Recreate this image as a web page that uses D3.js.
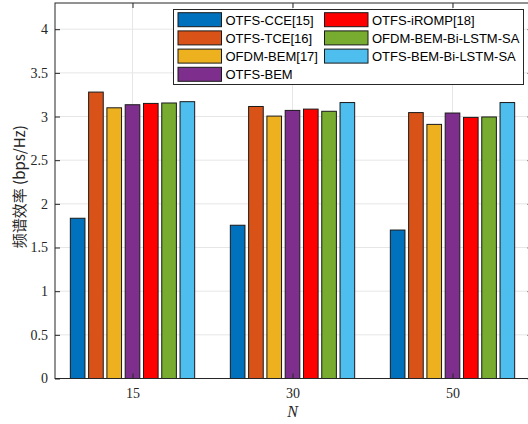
<!DOCTYPE html>
<html>
<head>
<meta charset="utf-8">
<script src="https://cdn.jsdelivr.net/npm/d3@7"></script>
<style>
  html, body { margin: 0; padding: 0; background: #fff; }
  svg { display: block; }
</style>
</head>
<body>
<svg id="chart" width="528" height="424"></svg>
<script>
// Spectral efficiency for each method at three frame sizes N
const categories = ["15", "30", "50"];
const seriesNames = [
  "OTFS-CCE[15]", "OTFS-TCE[16]", "OFDM-BEM[17]", "OTFS-BEM",
  "OTFS-iROMP[18]", "OFDM-BEM-Bi-LSTM-SA", "OTFS-BEM-Bi-LSTM-SA"
];
const seriesColors = ["#0072BD", "#D95319", "#EDB120", "#7E2F8E", "#FF0000", "#77AC30", "#4DBEEE"];
const otfsCce      = [1.835, 1.755, 1.70];
const otfsTce      = [3.28, 3.115, 3.045];
const ofdmBem      = [3.10, 3.005, 2.91];
const otfsBem      = [3.135, 3.07, 3.04];
const otfsIromp    = [3.15, 3.085, 2.99];
const ofdmBemLstm  = [3.155, 3.06, 2.995];
const otfsBemLstm  = [3.17, 3.16, 3.16];
const yTicks = [0, 0.5, 1, 1.5, 2, 2.5, 3, 3.5, 4];

const series = [otfsCce, otfsTce, ofdmBem, otfsBem, otfsIromp, ofdmBemLstm, otfsBemLstm];

const svg = d3.select("#chart");
const plotL = 55, plotR = 532.5, plotT = 3, plotB = 378.5;

// group index (1..3) on a continuous scale, grouped-bar layout
const x = d3.scaleLinear().domain([0.5156, 3.5]).range([plotL, plotR]);
const y = d3.scaleLinear().domain([0, 4.3]).range([plotB, plotT]);

const nSeries = series.length;
const groupWidth = Math.min(0.8, nSeries / (nSeries + 1.5));
const pitch = groupWidth / nSeries;
const barW = pitch * 0.8;

svg.append("defs").append("clipPath").attr("id", "plotClip")
  .append("rect").attr("x", plotL).attr("y", plotT).attr("width", plotR - plotL).attr("height", plotB - plotT);

// grid
const grid = svg.append("g").attr("clip-path", "url(#plotClip)");
grid.selectAll("line.gy").data(yTicks).enter().append("line")
  .attr("x1", plotL).attr("x2", plotR)
  .attr("y1", d => y(d)).attr("y2", d => y(d))
  .attr("stroke", "#e6e6e6").attr("stroke-width", 1);
grid.selectAll("line.gx").data(categories).enter().append("line")
  .attr("x1", (d, i) => x(i + 1)).attr("x2", (d, i) => x(i + 1))
  .attr("y1", plotT).attr("y2", plotB)
  .attr("stroke", "#e6e6e6").attr("stroke-width", 1);

// bars
const bars = svg.append("g").attr("clip-path", "url(#plotClip)");
series.forEach((vals, s) => {
  bars.selectAll(null).data(vals).enter().append("rect")
    .attr("x", (d, i) => x(i + 1 + (s - (nSeries - 1) / 2) * pitch - barW / 2))
    .attr("width", x(barW) - x(0))
    .attr("y", d => y(d))
    .attr("height", d => y(0) - y(d))
    .attr("fill", seriesColors[s])
    .attr("stroke", "#1a1a1a")
    .attr("stroke-width", 1);
});

// axes
const axisColor = "#262626";
const serif = "'Liberation Serif', 'DejaVu Serif', serif";
const gy = svg.append("g").attr("transform", `translate(${plotL},0)`)
  .call(d3.axisLeft(y).tickValues(yTicks).tickSizeInner(-5).tickSizeOuter(0).tickFormat(d3.format("")));
gy.select(".domain").remove();
gy.selectAll(".tick line").attr("stroke", axisColor);
gy.selectAll(".tick text").attr("x", -7)
  .attr("font-family", serif).attr("font-size", 14).attr("fill", axisColor);

const gyr = svg.append("g").attr("transform", `translate(${plotR},0)`)
  .call(d3.axisRight(y).tickValues(yTicks).tickSizeInner(-5).tickSizeOuter(0).tickFormat(""));
gyr.select(".domain").remove();
gyr.selectAll(".tick line").attr("stroke", axisColor);

const gx = svg.append("g").attr("transform", `translate(0,${plotB})`)
  .call(d3.axisBottom(x).tickValues([1, 2, 3]).tickSizeInner(-5).tickSizeOuter(0)
    .tickFormat((d, i) => categories[i]));
gx.select(".domain").remove();
gx.selectAll(".tick line").attr("stroke", axisColor);
gx.selectAll(".tick text").attr("y", 10)
  .attr("font-family", serif).attr("font-size", 14).attr("fill", axisColor);

const gxt = svg.append("g").attr("transform", `translate(0,${plotT})`)
  .call(d3.axisTop(x).tickValues([1, 2, 3]).tickSizeInner(-5).tickSizeOuter(0).tickFormat(""));
gxt.select(".domain").remove();
gxt.selectAll(".tick line").attr("stroke", axisColor);

// box
svg.append("rect").attr("x", plotL).attr("y", plotT)
  .attr("width", plotR - plotL).attr("height", plotB - plotT)
  .attr("fill", "none").attr("stroke", axisColor).attr("stroke-width", 1);

// axis titles
svg.append("text")
  .attr("transform", `translate(18,${(plotT + plotB) / 2 - 4}) rotate(-90)`)
  .attr("text-anchor", "middle").attr("dominant-baseline", "central")
  .attr("font-family", "'Noto Sans CJK SC', 'Liberation Sans', sans-serif")
  .attr("font-size", 15).attr("fill", axisColor)
  .text("频谱效率 (bps/Hz)");

svg.append("text")
  .attr("x", x(2)).attr("y", 417)
  .attr("text-anchor", "middle")
  .attr("font-family", serif)
  .attr("font-style", "italic")
  .attr("font-size", 16).attr("fill", axisColor)
  .text("N");

// legend, filled column by column (4 rows in the first column)
const legend = svg.append("g");
legend.append("rect").attr("x", 173.5).attr("y", 9.5).attr("width", 350).attr("height", 75)
  .attr("fill", "#fff").attr("stroke", axisColor).attr("stroke-width", 1);
const rowsPerCol = 4;
const colX = [178, 324.5];
seriesNames.forEach((name, i) => {
  const col = Math.floor(i / rowsPerCol), row = i % rowsPerCol;
  const lx = colX[col], ly = 12.7 + row * 18.2;
  legend.append("rect").attr("x", lx).attr("y", ly).attr("width", 43.5).attr("height", 14)
    .attr("fill", seriesColors[i]).attr("stroke", "#1a1a1a").attr("stroke-width", 1);
  legend.append("text").attr("x", lx + 47.5).attr("y", ly + 7.3)
    .attr("dominant-baseline", "central")
    .attr("font-family", "'Liberation Sans', Arial, sans-serif")
    .attr("font-size", 13).attr("fill", "#000")
    .text(name);
});
</script>
</body>
</html>
